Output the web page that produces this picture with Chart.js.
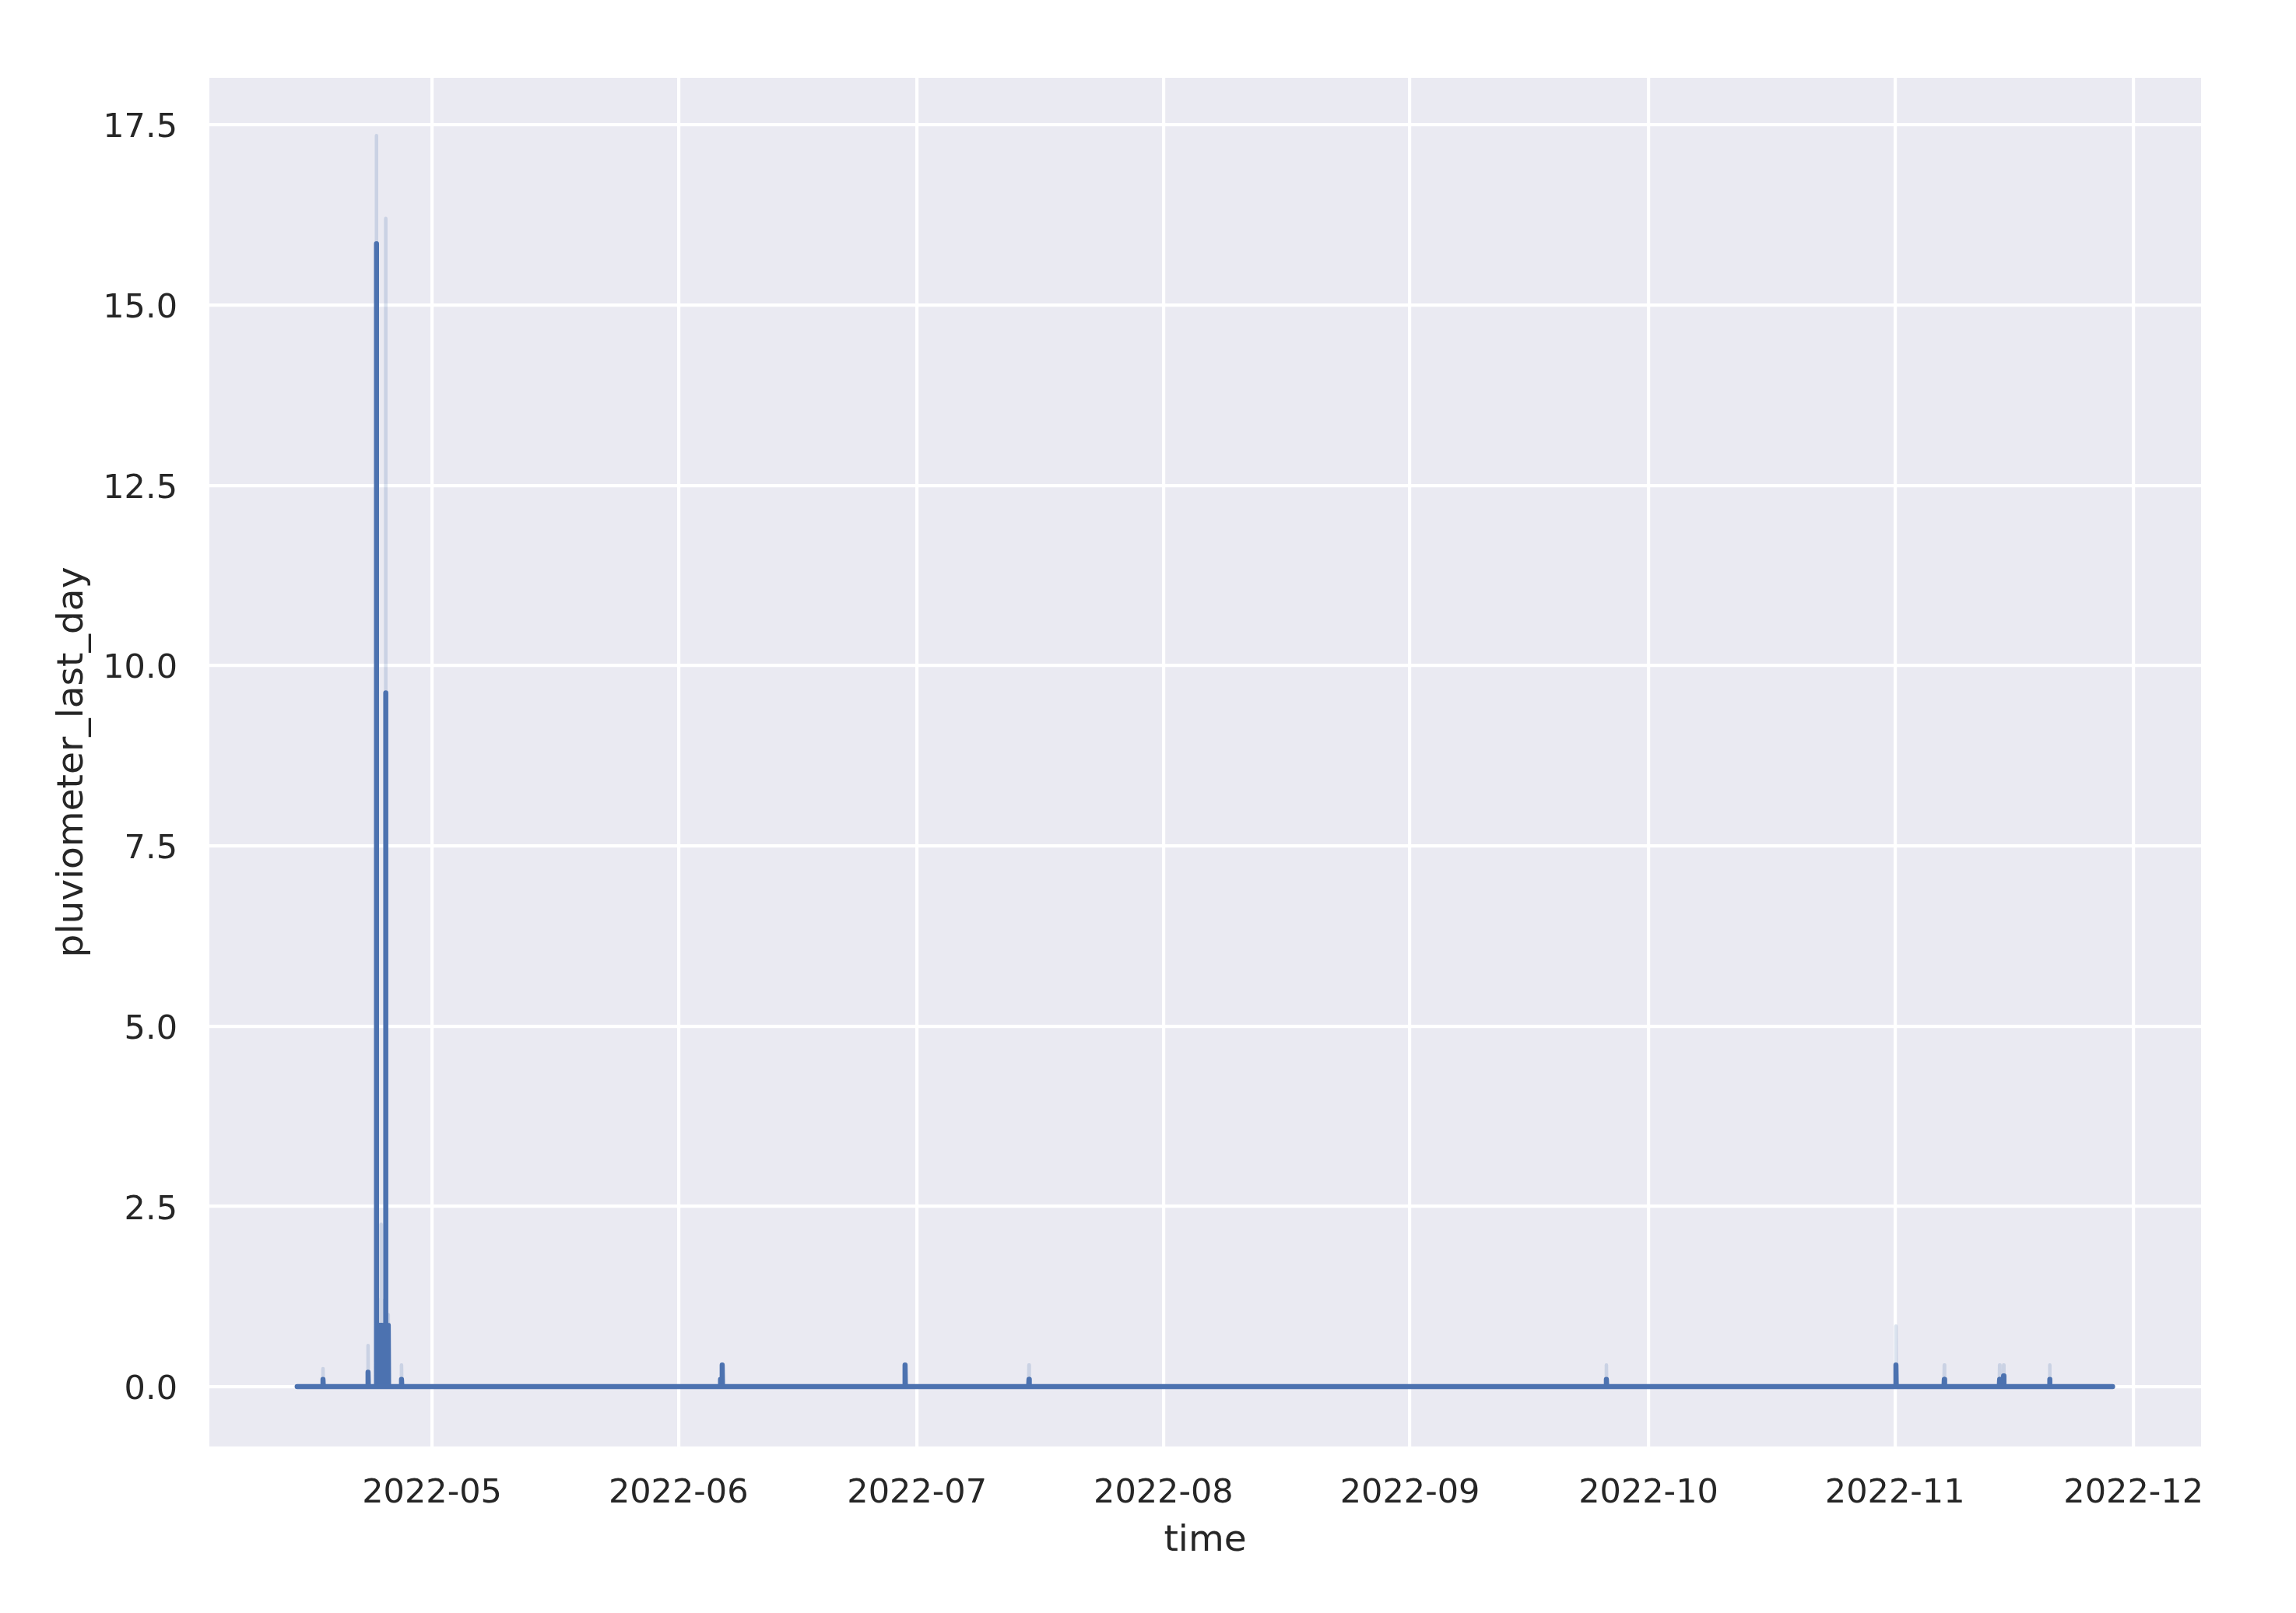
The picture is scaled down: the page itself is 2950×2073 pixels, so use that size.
<!DOCTYPE html>
<html lang="en">

<head>
    <meta charset="UTF-8">
    <title>pluviometer_last_day</title>
    <style>
        html, body { margin: 0; padding: 0; background: #ffffff; }
        canvas { display: block; }
    </style>
</head>

<body>
    <canvas id="rainChart" width="2950" height="2073"></canvas>

    <script src="https://cdn.jsdelivr.net/npm/chart.js@4.4.4/dist/chart.umd.min.js"></script>
    <script>
        // rain events (hourly mean + upper edge of the confidence band), everything else is 0
        const eventTimes = [
            '2022-04-17 07:00', '2022-04-22 23:00', '2022-04-24 00:00', '2022-04-24 09:00',
            '2022-04-24 14:00', '2022-04-24 17:30', '2022-04-25 04:00', '2022-04-25 12:00',
            '2022-04-27 04:00', '2022-06-06 07:00', '2022-06-06 12:00', '2022-06-29 12:00',
            '2022-07-15 02:00', '2022-09-25 17:00', '2022-11-01 03:00', '2022-11-07 05:00',
            '2022-11-14 04:00', '2022-11-14 16:00', '2022-11-20 11:00'
        ];
        const eventMean = [
            0.1, 0.2, 15.85, 0.85,
            0.85, 0.85, 9.62, 0.85,
            0.1, 0.1, 0.3, 0.3,
            0.1, 0.1, 0.3, 0.1,
            0.1, 0.15, 0.1
        ];
        const eventUpper = [
            0.25, 0.57, 17.35, 1.2,
            2.25, 1.2, 16.2, 1.0,
            0.3, 0.1, 0.3, 0.3,
            0.3, 0.3, 0.84, 0.3,
            0.3, 0.3, 0.3
        ];
        const firstTime = '2022-04-14 01:00';
        const lastTime = '2022-11-28 09:00';

        const xTickLabels = ['2022-05', '2022-06', '2022-07', '2022-08', '2022-09', '2022-10', '2022-11', '2022-12'];
        const yTicks = [0, 2.5, 5, 7.5, 10, 12.5, 15, 17.5];

        const HOUR = 3600 * 1000;

        function parseTime(s) {
            const [d, t] = s.split(' ');
            const [y, m, day] = d.split('-').map(Number);
            const [h, min] = t.split(':').map(Number);
            return Date.UTC(y, m - 1, day, h, min);
        }

        function monthStart(label) {
            const [y, m] = label.split('-').map(Number);
            return Date.UTC(y, m - 1, 1);
        }

        // each reading sits between zero readings one hour before and after
        function buildSeries(values) {
            const pts = [{ x: parseTime(firstTime), y: 0 }];
            eventTimes.forEach((s, i) => {
                const t = parseTime(s);
                pts.push({ x: t - HOUR, y: 0 });
                pts.push({ x: t, y: values[i] });
                pts.push({ x: t + HOUR, y: 0 });
            });
            pts.push({ x: parseTime(lastTime), y: 0 });
            return pts;
        }

        const textColor = '#262626';
        const lineColor = '#4C72B0';

        const plotBackground = {
            id: 'plotBackground',
            beforeDraw(chart) {
                const { ctx, chartArea: a } = chart;
                ctx.save();
                ctx.fillStyle = '#EAEAF2';
                ctx.fillRect(a.left, a.top, a.right - a.left, a.bottom - a.top);
                ctx.restore();
            }
        };

        const ctx = document.getElementById('rainChart').getContext('2d');
        new Chart(ctx, {
            type: 'line',
            data: {
                datasets: [{
                    label: 'mean',
                    data: buildSeries(eventMean),
                    borderColor: lineColor,
                    borderWidth: 6.5,
                    borderCapStyle: 'round',
                    borderJoinStyle: 'round',
                    pointRadius: 0,
                    tension: 0,
                    fill: false,
                    order: 0
                }, {
                    label: 'ci',
                    data: buildSeries(eventUpper),
                    borderColor: 'rgba(76, 114, 176, 0.2)',
                    borderWidth: 4.5,
                    borderCapStyle: 'round',
                    borderJoinStyle: 'round',
                    pointRadius: 0,
                    tension: 0,
                    fill: false,
                    order: 1
                }]
            },
            options: {
                responsive: false,
                animation: false,
                layout: {
                    padding: { left: 0, right: 122, top: 100, bottom: 0 }
                },
                plugins: {
                    legend: { display: false },
                    tooltip: { enabled: false }
                },
                scales: {
                    x: {
                        type: 'linear',
                        min: Date.UTC(2022, 3, 3),
                        max: Date.UTC(2022, 11, 9, 12),
                        afterBuildTicks: (scale) => {
                            scale.ticks = xTickLabels.map(l => ({ value: monthStart(l) }));
                        },
                        afterFit: (scale) => { scale.height = 214; },
                        ticks: {
                            autoSkip: false,
                            maxRotation: 0,
                            padding: 35,
                            color: textColor,
                            font: { family: 'DejaVu Sans', size: 43 },
                            callback: (v) => {
                                const d = new Date(v);
                                return d.getUTCFullYear() + '-' + String(d.getUTCMonth() + 1).padStart(2, '0');
                            }
                        },
                        grid: { color: '#ffffff', lineWidth: 4.2, drawTicks: false },
                        border: { display: false },
                        title: {
                            display: true,
                            text: 'time',
                            color: textColor,
                            font: { family: 'DejaVu Sans', size: 47 },
                            padding: { top: 0, bottom: 64 }
                        }
                    },
                    y: {
                        min: -0.83,
                        max: 18.15,
                        afterBuildTicks: (scale) => {
                            scale.ticks = yTicks.map(v => ({ value: v }));
                        },
                        afterFit: (scale) => { scale.width = 269; },
                        ticks: {
                            padding: 41,
                            labelOffset: 5,
                            color: textColor,
                            font: { family: 'DejaVu Sans', size: 43 },
                            callback: (v) => Number(v).toFixed(1)
                        },
                        grid: { color: '#ffffff', lineWidth: 4.2, drawTicks: false },
                        border: { display: false },
                        title: {
                            display: true,
                            text: 'pluviometer_last_day',
                            color: textColor,
                            font: { family: 'DejaVu Sans', size: 47 },
                            padding: { top: 66, bottom: 0 }
                        }
                    }
                }
            },
            plugins: [plotBackground]
        });
    </script>
</body>

</html>
